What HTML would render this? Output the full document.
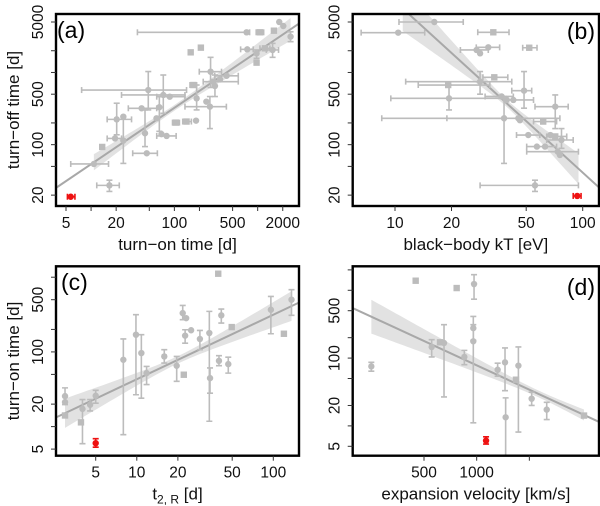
<!DOCTYPE html>
<html><head><meta charset="utf-8"><style>
html,body{margin:0;padding:0;background:#fff;}
svg{display:block;font-family:"Liberation Sans",sans-serif;}
</style></head><body>
<svg id="fig" width="600" height="506" viewBox="0 0 600 506"></svg>
<script>
// ---------- Panel (a): turn-on vs turn-off ----------
const aX   =[736,1064,1566,1815,2030,2483,157,208,750,970,970,1222,1510,272,293,353,424,307,169,185,267,242,182,140,104,48.6,73.6,88,40.4,66,61,20.3,24.4,19.4,24.4,44.4,46.6,80.7,70,13.6,10.8,16.6];
const aY   =[3600,3600,3790,5000,4400,3133,1900,2207,2090,1840,1368,2160,2050,1025,746,800,900,650,670,438,336,394,215,209,202,571,488,462,319,330,232,224,244,122,114,144,76,132,140,93,54,27.3];
const aXlo =[36,960,null,null,null,null,null,null,624,null,null,1064,1270,199,222,null,305,null,154,null,134,null,null,126,95,7.7,23.2,61.4,28,null,null,15.6,null,15.6,null,null,31.6,61.4,null,null,5.7,11.7];
const aXhi =[800,1180,null,null,null,null,null,null,885,null,null,1403,1780,368,585,null,585,null,185,null,421,null,null,160,115,140,134,134,61.4,null,null,30.6,null,23.2,null,null,62.5,105,null,null,16.2,21.8];
const aYlo =[null,null,null,null,null,2670,null,null,null,1570,null,null,1620,620,null,null,null,464,null,303,167,null,null,null,null,303,272,null,null,153,null,137,null,null,55,94,null,null,null,null,null,22.5];
const aYhi =[null,null,null,null,null,3660,null,null,null,2050,null,null,2530,1620,null,null,null,922,null,670,464,null,null,null,null,1030,922,null,null,464,null,375,null,null,245,303,null,null,null,null,null,32.2];
const aShape=["c","s","s","c","c","c","s","s","c","c","s","s","c","c","c","c","c","c","s","c","c","c","c","s","s","c","c","c","c","c","c","c","c","c","c","c","c","c","c","s","c","c"];
const aRed =[5.7,19.0,5.2,6.4,null,null];
const aFit =[3.87,25.6,0.78,2.0,0.04,0.109,10.8,2483];

// ---------- Panel (b): black-body kT vs turn-off ----------
const bX   =[16.2,10.4,33.4,51.9,31.4,27.2,28.4,33.8,28.4,19.2,19.4,48.7,37,39.4,42.7,71.4,38.1,45.4,46.3,61.6,51.3,67.3,71.4,77.1,57,63,73.6,75.6,55.7];
const bY   =[5000,3560,3600,2200,2230,2050,1840,857,746,670,438,560,465,416,416,336,232,232,218,209,136,136,130,116,94,94,80,72,27.3];
const bXlo =[10.5,6.6,27.6,47.9,27.1,22.3,null,29.4,11.4,13.3,9.5,41.9,30.2,null,null,55.7,8.5,18.9,null,54.7,44.4,null,64.3,64.3,50.3,null,50.3,null,28.4];
const bXhi =[23.1,14.4,40.5,57.1,36.1,31.4,null,39.9,41.9,32.0,37.8,53.5,42.7,54.7,null,83.7,38.5,75.6,null,72.6,59.1,null,82.2,89.0,72.6,null,94.9,null,94.9];
const bYlo =[null,null,null,null,null,null,null,null,500,null,303,320,null,null,null,167,55,null,null,null,null,null,null,89,null,null,null,null,22.5];
const bYhi =[null,null,null,null,null,null,null,null,1030,null,670,1030,null,null,null,488,464,null,null,null,null,null,null,167,null,null,null,null,32.2];
const bShape=["c","c","s","s","c","c","c","s","c","s","c","c","c","c","c","c","c","c","c","s","c","c","s","c","c","c","c","c","c"];
const bRed =[93.5,19.5,89,98,null,null];
const bFit =[12.0,6250,-2.37,1.6,0.05,0.55,11,95];

// ---------- Panel (c): t2,R vs turn-on ----------
const cX   =[39.5,136,96,41.6,49.6,119.6,21.7,23,22.6,25,29,34,34.4,40,46.8,15.9,19.6,22.1,9.86,10.8,11.8,7.97,5,4.55,4.0,3.9,2.98,2.98,2.98];
const cY   =[1114,500,367,309,215,175,331,283,165,195,149,179,44.6,76,68.7,87,65.3,49.5,170,96.5,52,78.5,25.9,19.6,17.3,11.4,25.6,21.3,14.1];
const cYlo =[null,309,175,243,null,null,270,null,131,null,107,11.8,28,65.5,52,71,40.4,null,26.7,24,36.5,7.8,20.6,16.2,5.9,null,19.7,null,null];
const cYhi =[null,681,553,375,null,null,419,null,198,null,194,349,61,89,85,107,87,null,315,170,64,149,30.6,23,23,null,33,null,null];
const cShape=["s","c","c","c","s","s","c","c","c","c","c","c","c","c","c","c","c","s","c","c","c","c","c","c","c","s","c","c","s"];
const cRed =[5,6.0,null,null,5.3,6.9];
const cFit =[2.59,13.4,0.864,1.3,0.05,0.23,2.98,136];

// ---------- Panel (d): expansion velocity vs turn-on ----------
const dX   =[421,810,975,968,968,573,652,690,883,0,1199,1269,1396,1373,1522,1665,2019,1275];
const dY   =[1384,1079,1236,277,177,146,171,167,104,75.6,67.4,86.5,77.3,48,25.2,17.4,14.2,13.4];
const dYlo =[null,null,740,183,11.1,104,null,26.7,80,64,54,33,8.1,null,20,12.4,null,2];
const dYhi =[null,null,1700,412,311,187,null,311,130,86.7,84,141,146,null,31.4,22.3,null,25.9];
const dShape=["s","s","c","c","c","c","s","c","c","c","c","c","c","s","c","c","s","c"];
const dRed =[1089,6.07,null,null,5.4,6.9];
const dFit =[-177,547,-7.18e-4,1600,0.05,0.000153,0,2019];

const aXTicks=[5,10,20,50,100,200,500,1000,2000], aXLabels=["5","","20","","100","","500","","2000"];
const bXTicks=[10,20,50,100], bXLabels=["10","20","50","100"];
const cXTicks=[5,10,20,50,100], cXLabels=["5","10","20","50","100"];
const dXTicks=[500,1000,1500], dXLabels=["500","1000",""];
const abYTicks=[5000,2000,1000,500,200,100,50,20], abYLabels=["5000","","","500","","100","","20"];
const cYTicks=[1000,500,200,100,50,20,10,5], cYLabels=["","500","","100","","20","","5"];
const dYTicks=[2000,1000,500,200,100,50,20,10,5], dYLabels=["","","500","","100","","20","","5"];

const NS="http://www.w3.org/2000/svg";
const svg=document.getElementById('fig');
function mk(tag,attrs,parent){const e=document.createElementNS(NS,tag);for(const k in attrs)e.setAttribute(k,attrs[k]);(parent||svg).appendChild(e);return e;}
const L10=Math.log10;
const GRAY="#bcbcbc", LINE="#a8a8a8", BAND="#e2e2e2", RED="#ee1111";

function panel(o){
  const g=mk('g',{});
  
  
  const clipId='clip'+o.id;
  const cp=mk('clipPath',{id:clipId},g);
  mk('rect',{x:o.L,y:o.T,width:o.R-o.L,height:o.B-o.T},cp);
  const inner=mk('g',{'clip-path':'url(#'+clipId+')'},g);
  const f=o.fit;
  const xv=v=>o.xlog?L10(v):v;
  const fy=v=>L10(f[1])+f[2]*(xv(v)-xv(f[0]));
  const hw=v=>Math.sqrt(f[4]*f[4]+f[5]*f[5]*Math.pow(xv(v)-f[3],2));
  let up=[],dn=[];
  for(let i=0;i<=60;i++){
    const t=o.xlog?Math.pow(10,L10(f[6])+(L10(f[7])-L10(f[6]))*i/60):f[6]+(f[7]-f[6])*i/60;
    up.push(o.sx(t)+','+o.syl(fy(t)+hw(t)));
    dn.unshift(o.sx(t)+','+o.syl(fy(t)-hw(t)));
  }
  const band=mk('polygon',{points:up.concat(dn).join(' '),fill:BAND},inner);
  
  
  const xa=o.xinv(o.L-5), xb=o.xinv(o.R+5);
  const ln=mk('line',{x1:o.sx(xa),y1:o.syl(fy(xa)),x2:o.sx(xb),y2:o.syl(fy(xb)),stroke:LINE,'stroke-width':2},inner);
  
  
  function point(x,y,xlo,xhi,ylo,yhi,shape,col,nm){
    const pg=mk('g',{},inner);
    
    
    const px=o.sx(x), py=o.sy(y), st={stroke:col,'stroke-width':1.6};
    if(xlo!=null||xhi!=null){
      const a=o.sx(xlo!=null?xlo:x), b=o.sx(xhi!=null?xhi:x);
      mk('line',Object.assign({x1:a,y1:py,x2:b,y2:py},st),pg);
      if(xlo!=null)mk('line',Object.assign({x1:a,y1:py-3,x2:a,y2:py+3},st),pg);
      if(xhi!=null)mk('line',Object.assign({x1:b,y1:py-3,x2:b,y2:py+3},st),pg);
    }
    if(ylo!=null||yhi!=null){
      const a=o.sy(ylo!=null?ylo:y), b=o.sy(yhi!=null?yhi:y);
      mk('line',Object.assign({x1:px,y1:a,x2:px,y2:b},st),pg);
      if(ylo!=null)mk('line',Object.assign({x1:px-3,y1:a,x2:px+3,y2:a},st),pg);
      if(yhi!=null)mk('line',Object.assign({x1:px-3,y1:b,x2:px+3,y2:b},st),pg);
    }
    if(shape==="s")mk('rect',{x:px-3.2,y:py-3.2,width:6.4,height:6.4,fill:col},pg);
    else mk('circle',{cx:px,cy:py,r:3.2,fill:col},pg);
  }
  for(let i=0;i<o.X.length;i++){
    point(o.X[i],o.Y[i],o.Xlo?o.Xlo[i]:null,o.Xhi?o.Xhi[i]:null,o.Ylo[i],o.Yhi[i],o.S[i],GRAY,'data-point');
  }
  const r=o.red; point(r[0],r[1],r[2],r[3],r[4],r[5],"c",RED,'highlight-point');
  const fr=mk('rect',{x:o.L,y:o.T,width:o.R-o.L,height:o.B-o.T,fill:'none',stroke:'#000','stroke-width':2.4},g);
  
  
  o.xt.forEach((t,i)=>{
    const x=o.sx(t);
    mk('line',{x1:x,y1:o.B,x2:x,y2:o.B+5,stroke:'#333','stroke-width':1},g);
    if(o.xl[i]){const tx=mk('text',{x:x,y:o.B+22,'text-anchor':'middle','font-size':15.5,fill:'#111'},g);tx.textContent=o.xl[i];
      
      }
  });
  o.yt.forEach((t,i)=>{
    const y=o.sy(t);
    mk('line',{x1:o.L-5,y1:y,x2:o.L,y2:y,stroke:'#333','stroke-width':1},g);
    if(o.yl[i]){const tx=mk('text',{x:0,y:0,transform:`translate(${o.L-13},${y}) rotate(-90)`,'text-anchor':'middle','font-size':15.5,fill:'#111'},g);tx.textContent=o.yl[i];
      
      }
  });
  const xt=mk('text',{x:(o.L+o.R)/2,y:o.B+44,'text-anchor':'middle','font-size':17,fill:'#111'},g);
  xt.innerHTML=o.xtitle;
  
  
  if(o.ytitle){
    const yt=mk('text',{x:0,y:0,transform:`translate(19,${(o.T+o.B)/2}) rotate(-90)`,'text-anchor':'middle','font-size':17,fill:'#111'},g);
    yt.textContent=o.ytitle;
    
    
  }
  const pl=mk('text',{x:o.lx,y:o.ly,'text-anchor':o.la,'font-size':23,fill:'#000'},g);
  pl.textContent=o.label;
  
  
}

function logScale(v0,p0,ppd){return v=>p0+(L10(v)-L10(v0))*ppd;}
function logScaleY(v0,p0,ppd){return v=>p0-(L10(v)-L10(v0))*ppd;}

(function(){
  const sx=logScale(5,66,83.3), sy=logScaleY(5000,22,72.2);
  panel({id:'a',name:'panel-a',L:56,R:299,T:14,B:206,xlog:true,sx,sy,syl:l=>22-(l-L10(5000))*72.2,
    xinv:p=>5*Math.pow(10,(p-66)/83.3),fit:aFit,X:aX,Y:aY,Xlo:aXlo,Xhi:aXhi,Ylo:aYlo,Yhi:aYhi,S:aShape,red:aRed,
    xt:aXTicks,xl:aXLabels,yt:abYTicks,yl:abYLabels,xtitle:'turn−on time [d]',ytitle:'turn−off time [d]',label:'(a)',lx:57,ly:38,la:'start'});
})();
(function(){
  const sx=logScale(10,395,187.7), sy=logScaleY(5000,22,72.2);
  panel({id:'b',name:'panel-b',L:352.7,R:599,T:14,B:206,xlog:true,sx,sy,syl:l=>22-(l-L10(5000))*72.2,
    xinv:p=>10*Math.pow(10,(p-395)/187.7),fit:bFit,X:bX,Y:bY,Xlo:bXlo,Xhi:bXhi,Ylo:bYlo,Yhi:bYhi,S:bShape,red:bRed,
    xt:bXTicks,xl:bXLabels,yt:abYTicks,yl:abYLabels,xtitle:'black−body kT [eV]',ytitle:null,label:'(b)',lx:595,ly:39,la:'end'});
})();
(function(){
  const sx=logScale(5,95.7,136.5), sy=logScaleY(500,299.7,74.7);
  panel({id:'c',name:'panel-c',L:56,R:299,T:266.3,B:455.7,xlog:true,sx,sy,syl:l=>299.7-(l-L10(500))*74.7,
    xinv:p=>5*Math.pow(10,(p-95.7)/136.5),fit:cFit,X:cX,Y:cY,Xlo:null,Xhi:null,Ylo:cYlo,Yhi:cYhi,S:cShape,red:cRed,
    xt:cXTicks,xl:cXLabels,yt:cYTicks,yl:cYLabels,xtitle:'t<tspan font-size="12" dy="4">2, R</tspan><tspan dy="-4"> [d]</tspan>',ytitle:'turn−on time [d]',label:'(c)',lx:61,ly:290,la:'start'});
})();
(function(){
  const sx=v=>424+(v-500)*0.10535, sy=logScaleY(500,310.7,67.8);
  panel({id:'d',name:'panel-d',L:352.7,R:599,T:266.3,B:455.7,xlog:false,sx,sy,syl:l=>310.7-(l-L10(500))*67.8,
    xinv:p=>500+(p-424)/0.10535,fit:dFit,X:dX,Y:dY,Xlo:null,Xhi:null,Ylo:dYlo,Yhi:dYhi,S:dShape,red:dRed,
    xt:dXTicks,xl:dXLabels,yt:dYTicks,yl:dYLabels,xtitle:'expansion velocity [km/s]',ytitle:null,label:'(d)',lx:595,ly:295,la:'end'});
})();
</script>
</body></html>
